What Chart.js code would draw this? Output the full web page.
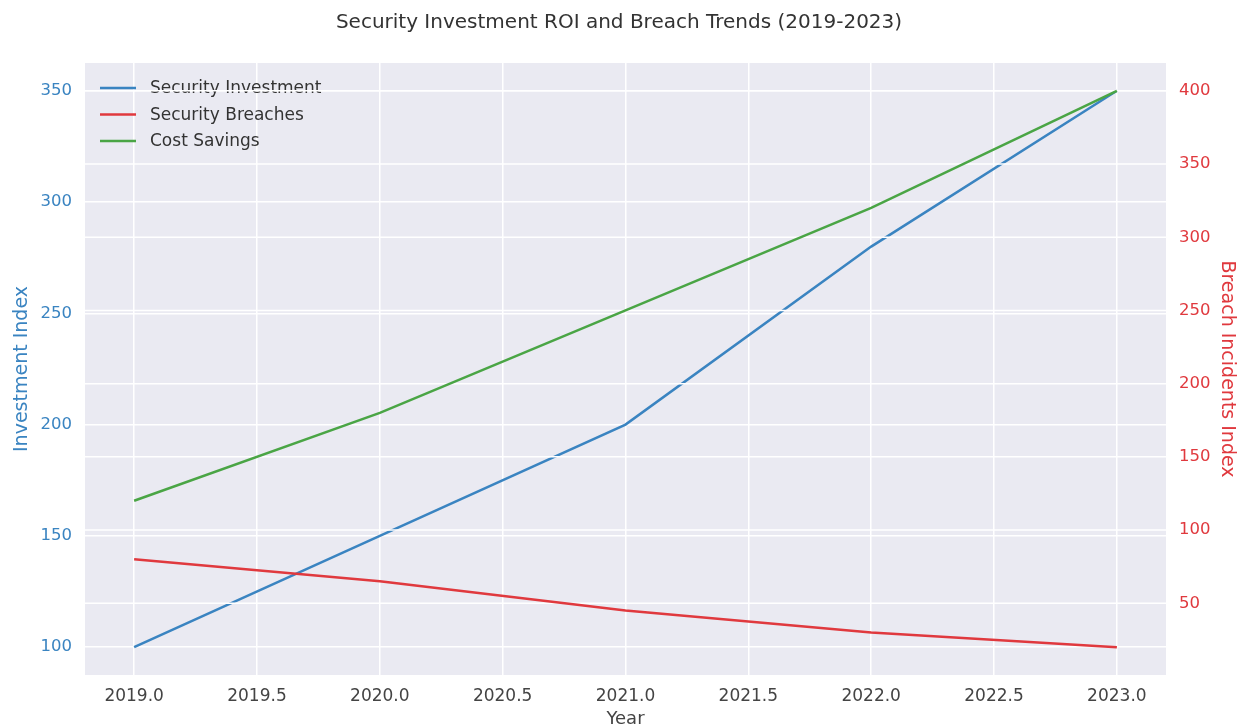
<!DOCTYPE html>
<html>
<head>
<meta charset="utf-8">
<script src="https://cdn.jsdelivr.net/npm/chart.js@4.4.1/dist/chart.umd.min.js"></script>
<style>
  html, body { margin: 0; padding: 0; background: #ffffff; }
  #wrap { width: 1238px; height: 727px; position: relative; }
</style>
</head>
<body>
<div id="wrap"><canvas id="roiChart"></canvas></div>
<script>
// data
const years = [2019, 2020, 2021, 2022, 2023];
const investment = [100, 150, 200, 280, 350];
const breaches = [80, 65, 45, 30, 20];
const costSavings = [120, 180, 250, 320, 400];

const xTicks = [2019.0, 2019.5, 2020.0, 2020.5, 2021.0, 2021.5, 2022.0, 2022.5, 2023.0];
const leftTicks = [100, 150, 200, 250, 300, 350];
const rightTicks = [50, 100, 150, 200, 250, 300, 350, 400];

const BLUE = '#3a84c1';
const RED = '#e0393e';
const GREEN = '#4aa545';
const FONT = "'DejaVu Sans', sans-serif";

const toPoints = (vals) => vals.map((v, i) => ({ x: years[i], y: v }));
const fixTicks = (list) => (scale) => { scale.ticks = list.map(v => ({ value: v })); };

// seaborn-like grey plot background
const plotBg = {
    id: 'plotBg',
    beforeDraw(chart) {
        const { ctx, chartArea: a } = chart;
        ctx.save();
        ctx.fillStyle = '#eaeaf2';
        ctx.fillRect(a.left, a.top, a.right - a.left, a.bottom - a.top);
        ctx.restore();
    }
};

// twin-axis look: after the first (left axis) line, draw legend, then right axis grid on top
const twinLayer = {
    id: 'twinLayer',
    afterDatasetDraw(chart, args) {
        if (args.index !== 0) return;
        const { ctx, chartArea: a } = chart;
        ctx.save();
        // legend
        ctx.font = "17px 'DejaVu Sans', sans-serif";
        ctx.textBaseline = 'middle';
        ctx.lineWidth = 2.5;
        chart.data.datasets.forEach((ds, i) => {
            const y = a.top + 25 + i * 26.5;
            ctx.strokeStyle = ds.borderColor;
            ctx.beginPath();
            ctx.moveTo(a.left + 15, y);
            ctx.lineTo(a.left + 51, y);
            ctx.stroke();
            ctx.fillStyle = '#333333';
            ctx.fillText(ds.label, a.left + 65, y + 1);
        });
        // right axis grid
        const yR = chart.scales.yR;
        ctx.strokeStyle = '#ffffff';
        ctx.lineWidth = 1.5;
        rightTicks.forEach(v => {
            const y = yR.getPixelForValue(v);
            ctx.beginPath();
            ctx.moveTo(a.left, y);
            ctx.lineTo(a.right, y);
            ctx.stroke();
        });
        ctx.restore();
    }
};

const ctx = document.getElementById('roiChart').getContext('2d');
new Chart(ctx, {
    type: 'line',
    data: {
        datasets: [
            { label: 'Security Investment', data: toPoints(investment), yAxisID: 'yL', borderColor: BLUE, backgroundColor: BLUE, order: 3 },
            { label: 'Security Breaches', data: toPoints(breaches), yAxisID: 'yR', borderColor: RED, backgroundColor: RED, order: 2 },
            { label: 'Cost Savings', data: toPoints(costSavings), yAxisID: 'yR', borderColor: GREEN, backgroundColor: GREEN, order: 1 }
        ]
    },
    options: {
        responsive: true,
        maintainAspectRatio: false,
        animation: false,
        elements: {
            line: { borderWidth: 2.5, tension: 0 },
            point: { radius: 0 }
        },
        layout: { padding: 0 },
        plugins: {
            title: {
                display: true,
                text: 'Security Investment ROI and Breach Trends (2019-2023)',
                color: '#333333',
                font: { family: FONT, size: 20, weight: 'normal' },
                padding: { top: 11, bottom: 28 }
            },
            legend: { display: false },
            tooltip: { enabled: false }
        },
        scales: {
            x: {
                type: 'linear',
                min: 2018.8,
                max: 2023.2,
                afterBuildTicks: fixTicks(xTicks),
                afterFit: s => { s.height = 52; },
                border: { display: false },
                grid: { color: '#ffffff', lineWidth: 1.5, drawTicks: false },
                ticks: {
                    color: '#444444',
                    font: { family: FONT, size: 17 },
                    padding: 11,
                    callback: v => Number(v).toFixed(1)
                },
                title: {
                    display: true, text: 'Year', color: '#444444',
                    font: { family: FONT, size: 18 }, padding: { top: 0, bottom: -3 }
                }
            },
            yL: {
                type: 'linear',
                position: 'left',
                min: 87.5,
                max: 362.5,
                afterBuildTicks: fixTicks(leftTicks),
                afterFit: s => { s.width = 85; },
                border: { display: false },
                grid: { color: '#ffffff', lineWidth: 1.5, drawTicks: false },
                ticks: { color: BLUE, font: { family: FONT, size: 16.5 }, padding: 13 },
                title: {
                    display: true, text: 'Investment Index', color: BLUE,
                    font: { family: FONT, size: 19 }, padding: { top: 11, bottom: 0 }
                }
            },
            yR: {
                type: 'linear',
                position: 'right',
                min: 1,
                max: 419,
                afterBuildTicks: fixTicks(rightTicks),
                afterFit: s => { s.width = 72; },
                border: { display: false },
                grid: { display: false, drawTicks: false },
                ticks: { color: RED, font: { family: FONT, size: 16.5 }, padding: 13 },
                title: {
                    display: true, text: 'Breach Incidents Index', color: RED,
                    font: { family: FONT, size: 19 }, padding: { top: 0, bottom: 0 }
                }
            }
        }
    },
    plugins: [plotBg, twinLayer]
});
</script>
